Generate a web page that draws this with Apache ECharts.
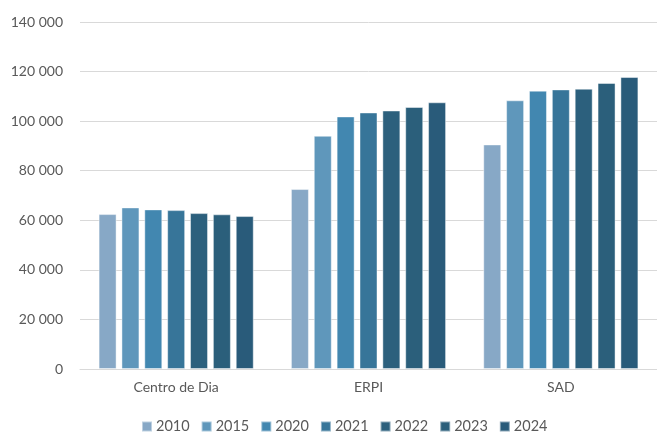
<!DOCTYPE html>
<html>
<head>
<meta charset="utf-8">
<script src="https://cdn.jsdelivr.net/npm/echarts@6/dist/echarts.min.js"></script>
<style>
html,body{margin:0;padding:0;background:#fff;}
#c{width:657px;height:435px;}
</style>
</head>
<body>
<div id="c"></div>
<script>
var categories = ['Centro de Dia', 'ERPI', 'SAD'];
var years = ['2010', '2015', '2020', '2021', '2022', '2023', '2024'];
var v2010 = [62500, 72600, 90600];
var v2015 = [65200, 94100, 108400];
var v2020 = [64400, 101900, 112300];
var v2021 = [64100, 103500, 112800];
var v2022 = [62900, 104300, 113100];
var v2023 = [62400, 105700, 115400];
var v2024 = [61700, 107600, 117800];
var yTicks = [0, 20000, 40000, 60000, 80000, 100000, 120000, 140000];

var values = [v2010, v2015, v2020, v2021, v2022, v2023, v2024];
var colors = ['#87A8C6', '#5F97BB', '#4287B0', '#377599', '#2C607D', '#2B5F7B', '#295B7A'];
var font = 'Lato, "Liberation Sans", sans-serif';

var series = years.map(function (y, i) {
  return {
    name: y,
    type: 'bar',
    data: values[i],
    barWidth: 18,
    barGap: '27%',
    itemStyle: { color: colors[i], borderColor: 'rgba(255,255,255,0.45)', borderWidth: 1 }
  };
});

var chart = echarts.init(document.getElementById('c'), null, { renderer: 'canvas' });
chart.setOption({
  animation: false,
  color: colors,
  grid: { left: 80, right: 0, top: 22, bottom: 66, containLabel: false },
  legend: {
    data: years,
    left: 141,
    top: 419,
    padding: 0,
    itemWidth: 10,
    itemHeight: 10,
    itemGap: 11,
    icon: 'rect',
    textStyle: { color: '#595959', fontSize: 14.5, fontFamily: font, padding: [0, 0, 0, -1] }
  },
  xAxis: {
    type: 'category',
    data: categories,
    axisTick: { show: false },
    axisLine: { show: true, lineStyle: { color: '#D9D9D9', width: 1 } },
    axisLabel: { color: '#595959', fontSize: 14, fontFamily: font, margin: 11 }
  },
  yAxis: {
    type: 'value',
    min: yTicks[0],
    max: yTicks[yTicks.length - 1],
    interval: 20000,
    axisLine: { show: false },
    axisTick: { show: false },
    splitLine: { lineStyle: { color: '#D9D9D9', width: 1 } },
    axisLabel: {
      color: '#595959', fontSize: 14, fontFamily: font, margin: 17,
      formatter: function (v) {
        return String(v).replace(/\B(?=(\d{3})+(?!\d))/g, ' ');
      }
    }
  },
  series: series
});
</script>
</body>
</html>
